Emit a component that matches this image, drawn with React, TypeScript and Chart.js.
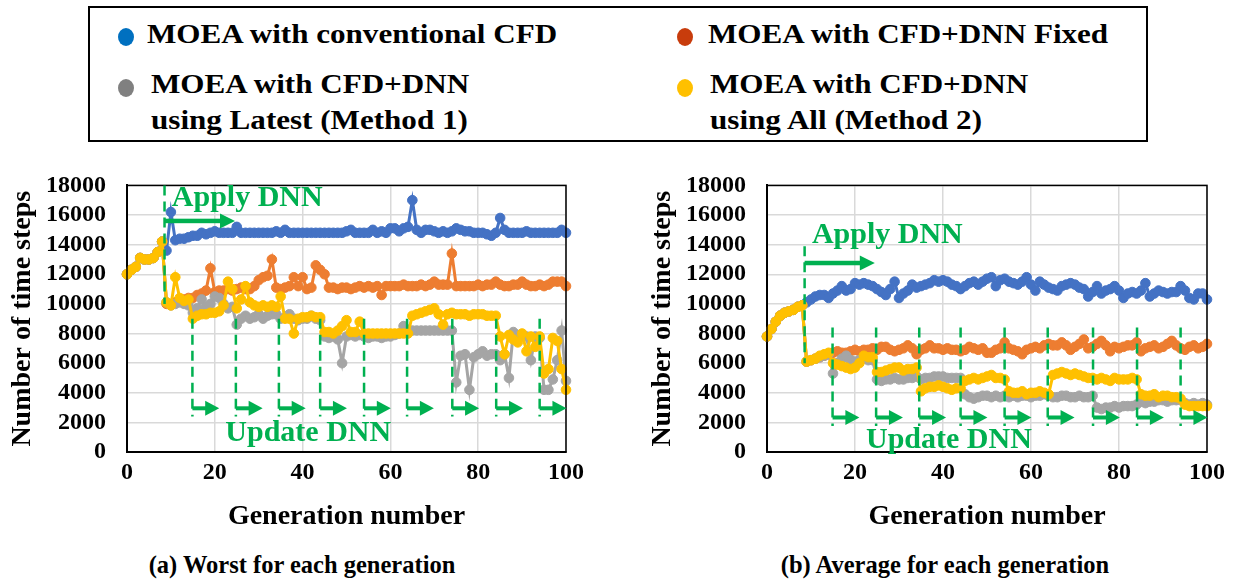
import React, { useEffect, useRef } from "react";
import { Chart, registerables } from "chart.js";

Chart.register(...registerables);

// ---------- data ----------
const generations = Array.from({ length: 101 }, (_, i) => i);
const xTicks = [0, 20, 40, 60, 80, 100];
const yTicks = [0, 2000, 4000, 6000, 8000, 10000, 12000, 14000, 16000, 18000];

const seriesNames = [
  "MOEA with conventional CFD",
  "MOEA with CFD+DNN Fixed",
  "MOEA with CFD+DNN using Latest (Method 1)",
  "MOEA with CFD+DNN using All (Method 2)",
];

// (a) Worst for each generation
const worstConventional = [
  12000, 12300, 12500, 13100, 13000, 13000, 13100, 13500, 14200,
  13600, 16200, 14300, 14400, 14400, 14500, 14600, 14600, 14800, 14700,
  14800, 14900, 14800, 14800, 14800, 14800, 15200, 14800, 14800, 14800,
  14800, 14800, 14800, 14800, 14800, 14900, 14800, 15000, 14800, 14800,
  14800, 14800, 14800, 14800, 14800, 14800, 14800, 14800, 14800, 14800,
  14800, 14900, 15000, 14800, 14800, 14800, 14800, 15000, 14800, 14900,
  14800, 15100, 15100, 14900, 15100, 15200, 17000, 15000, 14800, 15000,
  15000, 14900, 14800, 14900, 14800, 14900, 15100, 15000, 14900, 14900,
  14800, 14800, 14800, 14700, 14600, 14800, 15800, 15000, 14800, 14800,
  14800, 14800, 14900, 14800, 14800, 14800, 14800, 14800, 14800, 14800,
  15000, 14800,
];
const worstFixed = [
  12000, 12300, 12500, 13100, 13000, 13000, 13100, 13500, 14200,
  10000, 10000, 10100, 10200, 10300, 10400, 10400, 10600, 10700, 10900,
  12400, 10800, 10900, 10900, 11000, 10900, 11000, 11100, 11000, 11000,
  11200, 11600, 11800, 11900, 13000, 11100, 11000, 11100, 11200, 11800,
  11200, 11800, 11000, 11100, 12600, 12300, 12000, 11100, 11100, 11000,
  11100, 11100, 11000, 11100, 11200, 11100, 11200, 11100, 11200, 10600,
  11200, 11200, 11200, 11200, 11300, 11200, 11200, 11200, 11300, 11200,
  11300, 11500, 11300, 11300, 11300, 13400, 11200, 11200, 11200, 11200,
  11200, 11300, 11200, 11300, 11300, 11500, 11300, 11200, 11200, 11300,
  11300, 11500, 11300, 11200, 11200, 11300, 11200, 11300, 11500, 11500,
  11500, 11200,
];
const worstLatest = [
  12000, 12300, 12500, 13100, 13000, 13000, 13100, 13500, 14200,
  10100, 9900, 10000, 10100, 10000, 9900,
  9400, 9700, 10300, 9800, 10000, 10500, 10400, 10000, 9700, 9800,
  8600, 9000, 9200, 9000, 9100, 9300, 9000, 9200, 9300, 9300,
  9000, 9100, 9300, 9000, 8900, 9000, 9000, 9200, 9000, 8900,
  7800, 7700, 7800, 7600, 6000, 7800, 7900, 7800, 7900, 7800,
  7700, 7800, 7800, 7700, 7800, 7800, 7900, 8000, 8500, 8200,
  8200, 8200, 8200, 8200, 8200, 8200, 8200, 8200, 8200, 8200,
  4700, 6500, 6600, 4200, 6400, 6600, 6800, 6500, 6600, 6600,
  6200, 6600, 5000, 8100, 7900, 7800, 7800, 6200, 7800, 7700,
  4200, 4200, 4900, 6200, 8200, 4800,
];
const worstAll = [
  12000, 12300, 12500, 13100, 13000, 13000, 13100, 13500, 14200,
  10100, 9900, 11800, 10400, 10200, 10300,
  9000, 9200, 9300, 9300, 9400, 9400, 9500, 9900, 11500, 11000,
  9700, 10300, 11200, 10100, 9900, 9800, 9900, 9800, 9900, 9800,
  10500, 9000, 9000, 8000, 9000, 9100, 9100, 9200, 9100, 9100,
  8100, 8100, 8000, 8200, 8500, 8900, 8100, 8100, 8800, 8000,
  8000, 8000, 8000, 8000, 8000, 8000, 8000, 8000, 8000, 8000,
  9200, 9300, 9400, 9500, 9600, 9700, 9300, 8600, 9300, 9400,
  9300, 9300, 9300, 9200, 9300, 9300, 9300, 9200, 9200, 9200,
  7800, 6600, 7900, 7600, 7400, 8000, 6800, 7800, 7100, 7800,
  5300, 5600, 7700, 7500, 5600, 4200,
];

// (b) Average for each generation
const avgConventional = [
  7800, 8300, 8800, 9200, 9400, 9500, 9600, 9800, 9900,
  10100, 10300, 10500, 10600, 10600, 10400, 10700, 10900, 11200, 10900,
  11000, 11400, 11300, 11400, 11300, 11200, 11000, 10800, 10600, 11000,
  11500, 10400, 10700, 10900, 11300, 11100, 11200, 11300, 11400, 11600,
  11500, 11600, 11500, 11300, 11200, 11000, 11200, 11400, 11500, 11300,
  11500, 11700, 11800, 11200, 11600, 11700, 11500, 11400, 11300, 11500,
  11800, 11300, 10900, 11500, 11300, 11100, 11000, 10900, 11200, 11300,
  11400, 11300, 11100, 11000, 10500, 10800, 11200, 10700, 10900, 11000,
  11200, 10900, 10400, 10700, 10800, 10700, 10900, 11400, 10500, 10700,
  10900, 10800, 10700, 10800, 10800, 11200, 10900, 10400, 10300, 10700,
  10700, 10300,
];
const avgFixed = [
  7800, 8300, 8800, 9200, 9400, 9500, 9600, 9800, 9900,
  6100, 6200, 6300, 6400, 6500, 6600, 6700, 6800, 6700, 6700,
  6800, 6900, 6800, 6900, 6900, 7000, 6900, 7100, 7100, 6900,
  6800, 6900, 7000, 7200, 7000, 6600, 6900, 7000, 7200, 7000,
  7000, 6900, 7000, 6900, 6900, 6800, 6900, 7100, 7000, 6900,
  7000, 6700, 6700, 6900, 7000, 7400, 7000, 6900, 6800, 6600,
  6900, 7000, 7100, 7000, 7200, 7300, 7200, 7200, 7400, 7200,
  6900, 7100, 7300, 7600, 7000, 7100, 7300, 7500, 7200, 6800,
  7100, 7000, 7100, 7200, 7200, 7400, 6800, 7000, 7100, 7200,
  7000, 7100, 7300, 7500, 7200, 7000, 6900, 7100, 7200, 7000,
  7100, 7300,
];
const avgLatest = [
  7800, 8300, 8800, 9200, 9400, 9500, 9600, 9800, 9900,
  6100, 6200, 6300, 6400, 6500, 6600,
  5300, 6000, 6300, 6500, 6200, 6100, 6200, 6300, 6200, 6200,
  4900, 4800, 4900, 4900, 5000, 4900, 4900, 5000, 5000, 5100,
  4900, 5000, 5000, 5100, 5100, 5100, 5000, 5000, 5000, 5000,
  3900, 3700, 3600, 3700, 3800, 3800, 3700, 3800, 3700, 3800,
  3700, 3800, 3700, 3800, 3800, 3700, 3800, 3800, 3900, 3800,
  3700, 3700, 3800, 3800, 3700, 3700, 3800, 3700, 3700, 3800,
  3000, 2900, 3000, 3000, 3100, 3000, 3100, 3100, 3100, 3200,
  3400, 3300, 3400, 3400, 3500, 3500, 3400, 3500, 3500, 3500,
  3300, 3200, 3300, 3200, 3300, 3200,
];
const avgAll = [
  7800, 8300, 8800, 9200, 9400, 9500, 9600, 9800, 9900,
  6100, 6200, 6300, 6500, 6600, 6700,
  6000, 5900, 5800, 5700, 5600, 5700, 6000, 6500, 6400, 6400,
  5400, 5400, 5500, 5600, 5700, 5700, 5500, 5600, 5600, 5700,
  4100, 4300, 4400, 4400, 4500, 4400, 4300, 4200, 4300, 4300,
  4800, 4900, 5000, 4900, 5000, 5100, 5200, 5000, 5000, 4900,
  4100, 4000, 4000, 4100, 3900, 4000, 4000, 4100, 4000, 3900,
  5200, 5300, 5400, 5300, 5200, 5300, 5200, 5100, 5000, 5000,
  4900, 5000, 4900, 4800, 5000, 4900, 4900, 4900, 5000, 4900,
  3900, 3800, 3800, 3900, 3700, 3800, 3800, 3700, 3700, 3600,
  3200, 3100, 3100, 3100, 3100, 3100,
];

// annotation positions (generation numbers / values)
const applyGeneration = 8.55;
const updateGenerations = [14.9, 24.8, 34.6, 44, 54, 63.8, 74.1, 84.1, 94];

const lineColors = ["#4472C4", "#ED7D31", "#A5A5A5", "#FFC000"];
const legendColors = ["#0070C0", "#C83C0C", "#808080", "#FFC000"];
const GREEN = "#00B050";
const FONT = "'Liberation Serif', 'DejaVu Serif', serif";

type Ann = {
  applyTop: number; applyBottom: number; applyArrowY: number; applyArrowEnd: number;
  applyTextX: number; applyTextY: number;
  updTop: number; updBottom: number; updArrowY: number; updArrowLen: number;
  updTextX: number; updTextY: number;
};

const annotationPlugin = {
  id: "dnnAnnotations",
  afterDatasetsDraw(chart: any, _args: any, opts: Ann) {
    const { ctx, chartArea, scales } = chart;
    const xs = scales.x, ys = scales.y;
    const X = (v: number) => xs.getPixelForValue(v);
    const Y = (v: number) => ys.getPixelForValue(v);
    ctx.save();
    ctx.strokeStyle = "#000";
    ctx.lineWidth = 1.5;
    ctx.strokeRect(chartArea.left, chartArea.top, chartArea.right - chartArea.left, chartArea.bottom - chartArea.top);

    const vline = (x: number, y1: number, y2: number) => {
      ctx.beginPath();
      ctx.moveTo(x, y1);
      ctx.lineTo(x, y2);
      ctx.stroke();
    };
    const arrow = (x1: number, x2: number, y: number, shaft: number, headLen: number, headH: number) => {
      ctx.fillStyle = GREEN;
      ctx.fillRect(x1, y - shaft / 2, x2 - headLen - x1 + 1, shaft);
      ctx.beginPath();
      ctx.moveTo(x2 - headLen, y - headH / 2);
      ctx.lineTo(x2, y);
      ctx.lineTo(x2 - headLen, y + headH / 2);
      ctx.closePath();
      ctx.fill();
    };

    ctx.strokeStyle = GREEN;
    ctx.lineWidth = 2.5;
    ctx.setLineDash([10, 6]);
    const ax = X(applyGeneration);
    vline(ax, Y(opts.applyTop), Y(opts.applyBottom));
    updateGenerations.forEach((g) => vline(X(g), Y(opts.updTop), Y(opts.updBottom)));
    ctx.setLineDash([]);

    arrow(ax, X(opts.applyArrowEnd), Y(opts.applyArrowY), 4.5, 15, 15);
    updateGenerations.forEach((g) => arrow(X(g), X(g + opts.updArrowLen), Y(opts.updArrowY), 4, 14, 15));

    ctx.fillStyle = GREEN;
    ctx.font = `bold 30px ${FONT}`;
    ctx.textBaseline = "alphabetic";
    ctx.textAlign = "left";
    ctx.fillText("Apply DNN", X(opts.applyTextX), Y(opts.applyTextY));
    ctx.fillText("Update DNN", X(opts.updTextX), Y(opts.updTextY));
    ctx.restore();
  },
};

function makeConfig(values: number[][], ann: Ann, padRight: number): any {
  const datasets = values.map((vals, i) => ({
    label: seriesNames[i],
    data: generations.map((g, k) => ({ x: g, y: vals[k] })),
    borderColor: lineColors[i],
    backgroundColor: lineColors[i],
    pointBackgroundColor: lineColors[i],
    pointBorderColor: lineColors[i],
    borderWidth: 3,
    pointRadius: 4.8,
    pointBorderWidth: 1,
    tension: 0,
    order: 4 - i,
    clip: 8,
  }));
  return {
    type: "line",
    data: { datasets },
    plugins: [annotationPlugin],
    options: {
      responsive: false,
      maintainAspectRatio: false,
      animation: false,
      layout: { padding: { top: 25, right: padRight, bottom: 6, left: 0 } },
      plugins: {
        legend: { display: false },
        tooltip: { enabled: false },
        dnnAnnotations: ann,
      },
      scales: {
        x: {
          type: "linear",
          min: 0,
          max: 100,
          afterBuildTicks: (s: any) => { s.ticks = xTicks.map((v) => ({ value: v })); },
          ticks: { color: "#000", font: { family: FONT, size: 24, weight: "bold" }, padding: 6, maxRotation: 0, autoSkip: false },
          grid: { color: "#D9D9D9", lineWidth: 1.5, drawTicks: false },
          border: { color: "#000", width: 2 },
          title: {
            display: true,
            text: "Generation number",
            color: "#000",
            font: { family: FONT, size: 28, weight: "bold" },
            padding: { top: 0, bottom: 0 },
          },
          afterFit: (s: any) => { s.height = 82; },
        },
        y: {
          min: 0,
          max: 18000,
          afterBuildTicks: (s: any) => { s.ticks = yTicks.map((v) => ({ value: v })); },
          ticks: {
            color: "#000",
            font: { family: FONT, size: 24, weight: "bold" },
            padding: 21,
            autoSkip: false,
            callback: (v: any) => String(v),
          },
          grid: { color: "#D9D9D9", lineWidth: 1.5, drawTicks: false },
          border: { color: "#000", width: 2 },
          title: {
            display: true,
            text: "Number of time steps",
            color: "#000",
            font: { family: FONT, size: 28, weight: "bold" },
            padding: { top: 6, bottom: 0 },
          },
          afterFit: (s: any) => { s.width = 127; },
        },
      },
    },
  };
}

function ChartCanvas(props: { left: number; width: number; values: number[][]; ann: Ann; padRight: number }) {
  const ref = useRef<HTMLCanvasElement | null>(null);
  useEffect(() => {
    if (!ref.current) return;
    const chart = new Chart(ref.current, makeConfig(props.values, props.ann, props.padRight));
    return () => chart.destroy();
  }, []);
  return (
    <canvas
      ref={ref}
      width={props.width}
      height={390}
      style={{ position: "absolute", left: props.left, top: 150, width: props.width, height: 390 }}
    />
  );
}

const textStyle: React.CSSProperties = {
  position: "absolute",
  fontFamily: FONT,
  fontWeight: "bold",
  fontSize: 28,
  lineHeight: "28px",
  whiteSpace: "nowrap",
  color: "#000",
  transform: "scaleX(1.11)",
  transformOrigin: "0 50%",
};

function Dot(props: { x: number; y: number; color: string }) {
  return (
    <div
      style={{
        position: "absolute",
        left: props.x - 8,
        top: props.y - 9,
        width: 16,
        height: 18,
        borderRadius: "50%",
        background: props.color,
      }}
    />
  );
}

export default function App() {
  const annA: Ann = {
    applyTop: 18000, applyBottom: 10000, applyArrowY: 15600, applyArrowEnd: 24.6,
    applyTextX: 10.2, applyTextY: 16600,
    updTop: 9000, updBottom: 2400, updArrowY: 2950, updArrowLen: 6.1,
    updTextX: 22.4, updTextY: 720,
  };
  const annB: Ann = {
    applyTop: 13900, applyBottom: 6000, applyArrowY: 12760, applyArrowEnd: 24.5,
    applyTextX: 10.2, applyTextY: 14100,
    updTop: 8400, updBottom: 1750, updArrowY: 2330, updArrowLen: 6.1,
    updTextX: 22.5, updTextY: 240,
  };
  const captionStyle: React.CSSProperties = {
    ...textStyle, fontSize: 24.5, lineHeight: "24px", width: 500, top: 553, textAlign: "center",
    transform: "none",
  };
  return (
    <div style={{ position: "absolute", left: 0, top: 0, width: 1236, height: 583, background: "#fff", overflow: "hidden" }}>
      <div
        style={{
          position: "absolute", left: 88, top: 6, width: 1060, height: 136,
          border: "2px solid #000", boxSizing: "border-box",
        }}
      />
      <Dot x={126} y={37} color={legendColors[0]} />
      <div style={{ ...textStyle, left: 147, top: 20 }}>MOEA with conventional CFD</div>
      <Dot x={685} y={37} color={legendColors[1]} />
      <div style={{ ...textStyle, left: 708, top: 20 }}>MOEA with CFD+DNN Fixed</div>
      <Dot x={126} y={88} color={legendColors[2]} />
      <div style={{ ...textStyle, left: 151, top: 70 }}>MOEA with CFD+DNN</div>
      <div style={{ ...textStyle, left: 151, top: 106 }}>using Latest (Method 1)</div>
      <Dot x={685} y={88} color={legendColors[3]} />
      <div style={{ ...textStyle, left: 710, top: 70 }}>MOEA with CFD+DNN</div>
      <div style={{ ...textStyle, left: 710, top: 106 }}>using All (Method 2)</div>

      <ChartCanvas left={0} width={600} padRight={34}
        values={[worstConventional, worstFixed, worstLatest, worstAll]} ann={annA} />
      <ChartCanvas left={640} width={596} padRight={29}
        values={[avgConventional, avgFixed, avgLatest, avgAll]} ann={annB} />

      <div style={{ ...captionStyle, left: 52 }}>(a) Worst for each generation</div>
      <div style={{ ...captionStyle, left: 695 }}>(b) Average for each generation</div>
    </div>
  );
}
